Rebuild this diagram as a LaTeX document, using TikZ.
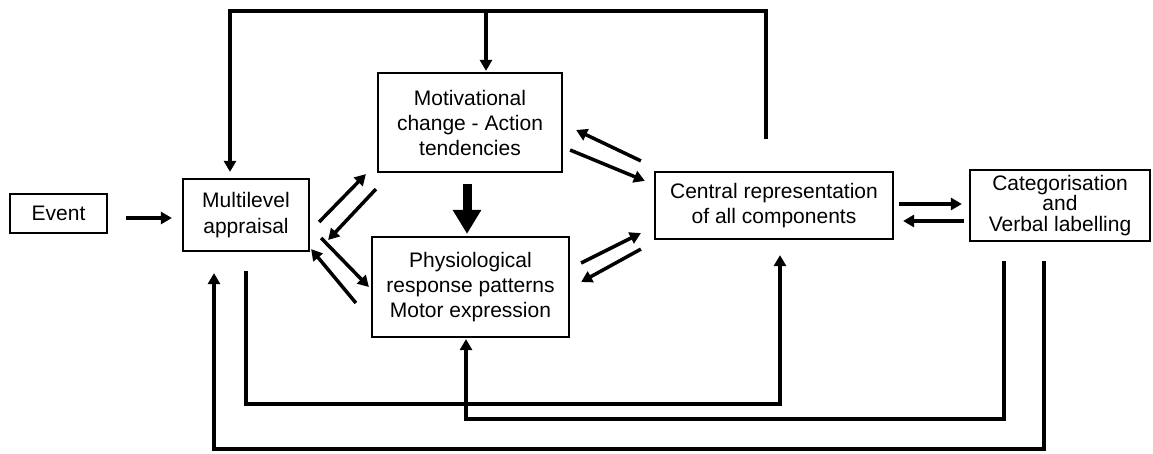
\documentclass[tikz,border=0pt]{standalone}
\usepackage{fontspec}
\setmainfont{Liberation Sans}
\usetikzlibrary{arrows.meta}
\begin{document}
\begin{tikzpicture}[x=1pt,y=-1pt,
  box/.style={draw, line width=2.2pt, fill=white, align=center, inner sep=0pt,
    font=\fontsize{21}{25}\selectfont},
  ln/.style={line width=3.5pt},
  arr/.style={line width=3.5pt, -{Triangle[length=11pt,width=12pt]}},
  bigarr/.style={line width=9pt, -{Triangle[length=24pt,width=27pt]}}]
\useasboundingbox (0,0) rectangle (1153,453);
% boxes
\node[box, minimum width=97pt, minimum height=39pt] (ev) at (58.5,213.5) {Event};
\node[box, minimum width=126pt, minimum height=72pt,
  font=\fontsize{21}{26}\selectfont] (mult) at (246,215) {Multilevel\\appraisal};
\node[box, minimum width=184pt, minimum height=99pt] (mot) at (470,122.5)
  {Motivational\\change - Action\\tendencies};
\node[box, minimum width=197pt, minimum height=100pt] (phys) at (470.5,287)
  {Physiological\\response patterns\\Motor expression};
\node[box, minimum width=238pt, minimum height=67pt,
  font=\fontsize{21}{25}\selectfont] (cen) at (774,205.5)
  {Central representation\\of all components};
\node[box, minimum width=180pt, minimum height=71pt,
  font=\fontsize{21}{20.5}\selectfont] (cat) at (1060,205.5)
  {Categorisation\\and\\Verbal labelling};
% event -> appraisal
\draw[arr] ([shift={(18,4.5)}]ev.east) -- ([shift={(-10,3)}]mult.west);
% appraisal <-> motivational
\draw[arr] ([shift={(9,7)}]mult.east) -- ([shift={(-11,1)}]mot.south west);
\draw[arr] ([shift={(-1,16)}]mot.south west) -- ([shift={(18,25)}]mult.east);
% appraisal <-> physiological
\draw[arr] ([shift={(11,23)}]mult.east) -- ([shift={(-2,0)}]phys.west);
\draw[arr] ([shift={(-15,16)}]phys.west) -- ([shift={(1,-3)}]mult.south east);
% motivational -> physiological
\draw[bigarr] ([shift={(-3,11)}]mot.south) -- ([shift={(-3.5,-2)}]phys.north);
% motivational <-> central
\draw[arr] ([shift={(-13,-10)}]cen.north west) -- ([shift={(13,7.5)}]mot.east);
\draw[arr] ([shift={(7,27.5)}]mot.east) -- ([shift={(-9,10)}]cen.north west);
% physiological <-> central
\draw[arr] ([shift={(11,-24)}]phys.east) -- ([shift={(-13,-7)}]cen.south west);
\draw[arr] ([shift={(-13,9)}]cen.south west) -- ([shift={(11,-5)}]phys.east);
% central <-> categorisation
\draw[arr] ([shift={(5,-1.5)}]cen.east) -- ([shift={(-7,-1.5)}]cat.west);
\draw[arr] ([shift={(-5,15.5)}]cat.west) -- ([shift={(9,15.5)}]cen.east);
% top feedback loop
\draw[arr] ([shift={(-8,-32)}]cen.north) -- ++(0,-128) -| ([shift={(-16,-6)}]mult.north);
\draw[arr] ([shift={(16,-61)}]mot.north) -- ([shift={(16,-1)}]mot.north);
% bottom loops
\draw[arr] ([shift={(0,19)}]mult.south) -- ++(0,133) -| ([shift={(6,15)}]cen.south);
\draw[arr] ([shift={(-56,19)}]cat.south) -- ++(0,158) -| ([shift={(-4.5,1)}]phys.south);
\draw[arr] ([shift={(-16,19)}]cat.south) -- ++(0,188) -| ([shift={(-32,21)}]mult.south);
\end{tikzpicture}
\end{document}
